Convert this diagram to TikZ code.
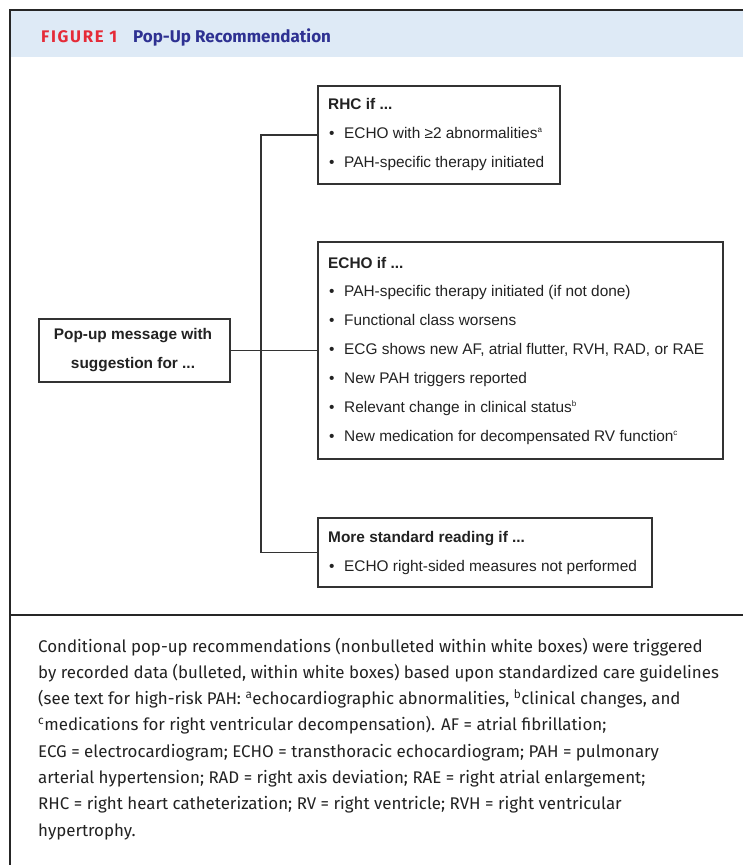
\documentclass[tikz,border=0pt]{standalone}
\usepackage{fontspec}
\setmainfont{Liberation Sans}
\newfontfamily\capfont{Fira Sans}
\newfontfamily\headfont{Fira Sans}
\definecolor{headbg}{HTML}{DEEAF6}
\definecolor{figred}{HTML}{E52B38}
\definecolor{fignavy}{HTML}{2E3192}
\definecolor{boxline}{HTML}{333333}
\definecolor{txtcol}{HTML}{222222}
\tikzset{
  frameline/.style={line width=2pt, draw=black!85},
  box/.style={draw=boxline, line width=1.5pt, fill=white, inner sep=0pt, anchor=north west},
  conn/.style={draw=boxline, line width=1.5pt},
  txt/.style={anchor=base west, inner sep=0pt, text=txtcol, font=\fontsize{15.4}{18}\selectfont},
  boldtxt/.style={anchor=base west, inner sep=0pt, text=txtcol, font=\fontsize{15.4}{18}\selectfont\bfseries},
  capline/.style={anchor=base west, inner sep=0pt, text=txtcol, font=\capfont\fontsize{16.9}{20}\selectfont},
}
\newcommand{\bul}[1]{\makebox[15pt][l]{•}#1}
\newcommand{\smsup}[1]{\textsuperscript{\fontsize{8}{8}\selectfont #1}}
\begin{document}
\begin{tikzpicture}[x=1pt,y=-1pt]
\useasboundingbox (0,0) rectangle (743,865);
% frame and header
\fill[headbg] (10,10) rectangle (743,57);
\draw[frameline] (743,10) -- (10,10) -- (10,865);
\draw[frameline] (10,615) -- (743,615);
\node[anchor=base west, inner sep=0pt, text=figred, font=\headfont\fontsize{16.8}{18}\selectfont\bfseries\addfontfeature{LetterSpace=10}] (fig) at (41,42) {FIGURE 1};
\node[anchor=base west, inner sep=0pt, text=fignavy, font=\headfont\fontsize{17}{18}\selectfont\bfseries] (title) at (133,42) {Pop-Up Recommendation};
% boxes
\node[box, minimum width=191pt, minimum height=63pt] (pop) at (38,318) {};
\node[box, minimum width=242pt, minimum height=98pt] (rhc) at (317,85) {};
\node[box, minimum width=405pt, minimum height=217pt] (echo) at (317,241) {};
\node[box, minimum width=334pt, minimum height=69pt] (more) at (317,517) {};
% connectors
\coordinate (spine) at (261,349.5);
\draw[conn] (rhc.west) -| (spine) |- (more.west);
\draw[conn] (pop.east) -- (echo.west);
% pop-up text
\node[anchor=base, inner sep=0pt, text=txtcol, font=\fontsize{15.4}{18}\selectfont\bfseries] (pop1) at (133,339.5) {Pop-up message with};
\node[anchor=base, inner sep=0pt, text=txtcol, font=\fontsize{15.4}{18}\selectfont\bfseries] (pop2) at (133,368.5) {suggestion for ...};
% RHC box text
\node[boldtxt] (rhch) at (328,109) {RHC if ...};
\node[txt] (rhc1) at (329,138) {\bul{ECHO with ≥2 abnormalities\smsup{a}}};
\node[txt] (rhc2) at (329,167) {\bul{PAH-specific therapy initiated}};
% ECHO box text
\node[boldtxt] (echoh) at (328,268.5) {ECHO if ...};
\node[txt] (echo1) at (329,296) {\bul{PAH-specific therapy initiated (if not done)}};
\node[txt] (echo2) at (329,325) {\bul{Functional class worsens}};
\node[txt] (echo3) at (329,354) {\bul{ECG shows new AF, atrial flutter, RVH, RAD, or RAE}};
\node[txt] (echo4) at (329,383) {\bul{New PAH triggers reported}};
\node[txt] (echo5) at (329,412) {\bul{Relevant change in clinical status\smsup{b}}};
\node[txt] (echo6) at (329,441) {\bul{New medication for decompensated RV function\smsup{c}}};
% More box text
\node[boldtxt] (moreh) at (328,542.5) {More standard reading if ...};
\node[txt] (more1) at (329,571.5) {\bul{ECHO right-sided measures not performed}};
% caption
\node[capline] (cap1) at (38,652) {Conditional pop-up recommendations (nonbulleted within white boxes) were triggered};
\node[capline] (cap2) at (38,678.3) {by recorded data (bulleted, within white boxes) based upon standardized care guidelines};
\node[capline] (cap3) at (38,704.6) {(see text for high-risk PAH: \textsuperscript{a}echocardiographic abnormalities, \textsuperscript{b}clinical changes, and};
\node[capline] (cap4) at (38,730.9) {\textsuperscript{c}medications for right ventricular decompensation). AF = atrial fibrillation;};
\node[capline] (cap5) at (38,757.2) {ECG = electrocardiogram; ECHO = transthoracic echocardiogram; PAH = pulmonary};
\node[capline] (cap6) at (38,783.5) {arterial hypertension; RAD = right axis deviation; RAE = right atrial enlargement;};
\node[capline] (cap7) at (38,809.8) {RHC = right heart catheterization; RV = right ventricle; RVH = right ventricular};
\node[capline] (cap8) at (38,836.1) {hypertrophy.};
\end{tikzpicture}
\end{document}
